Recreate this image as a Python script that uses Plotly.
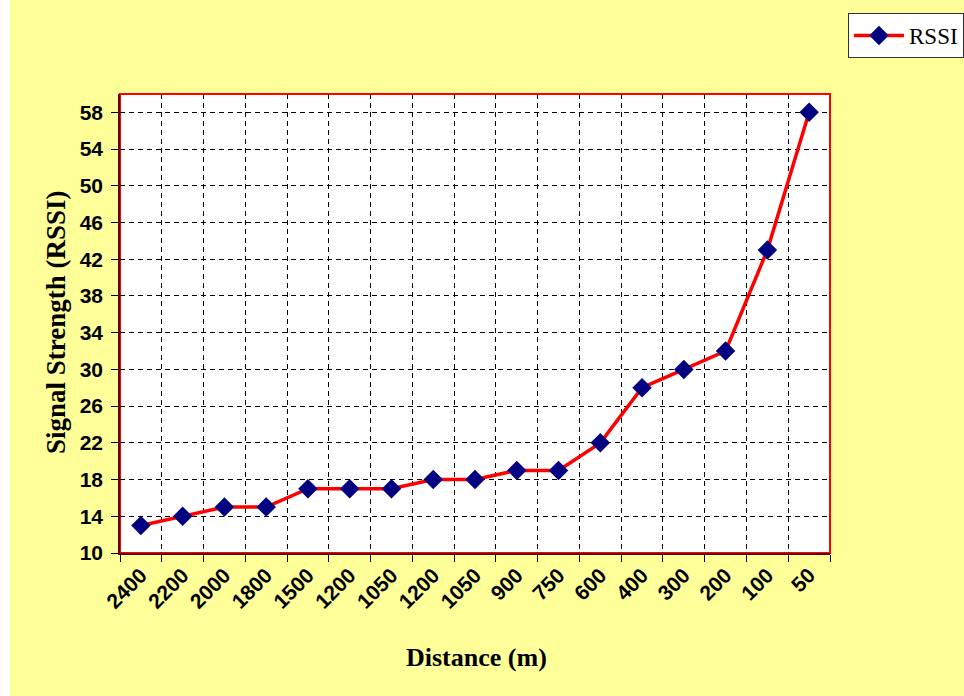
import plotly.graph_objects as go

# Distance labels along the x axis (some distances repeat in the survey)
distance_labels = ["2400", "2200", "2000", "1800", "1500", "1200", "1050", "1200",
                   "1050", "900", "750", "600", "400", "300", "200", "100", "50"]
rssi_values = [13, 14, 15, 15, 17, 17, 17, 18, 18, 19, 19, 22, 28, 30, 32, 43, 58]
y_ticks = [10, 14, 18, 22, 26, 30, 34, 38, 42, 46, 50, 54, 58]

positions = list(range(len(distance_labels)))

W, H = 964, 696
ML, MR, MT, MB = 120, 134, 94, 143
PW, PH = W - ML - MR, H - MT - MB


def px_x(px):
    return (px - ML) / PW


def px_y(py):
    return (H - MB - py) / PH


fig = go.Figure()
fig.add_trace(go.Scatter(
    x=positions, y=rssi_values, name="RSSI", mode="lines+markers",
    line=dict(color="#FF0000", width=3.5),
    marker=dict(symbol="diamond", size=15, color="#000080",
                line=dict(width=0)),
))

tick_font = dict(family="Liberation Sans, Arial, sans-serif", size=21,
                 color="black", weight="bold")
title_font = dict(family="Liberation Serif, Times New Roman, serif",
                  color="black", weight="bold")

fig.update_layout(
    width=W, height=H,
    margin=dict(l=ML, r=MR, t=MT, b=MB, autoexpand=False),
    paper_bgcolor="#FFFF99",
    plot_bgcolor="white",
    showlegend=True,
    legend=dict(
        xref="container", yref="container",
        x=848 / W, y=1 - 13 / H, xanchor="left", yanchor="top",
        bgcolor="white", bordercolor="#333333", borderwidth=1,
        itemwidth=50,
        font=dict(family="Liberation Serif, Times New Roman, serif", size=23, color="black"),
    ),
    xaxis=dict(
        range=[-0.5, len(distance_labels) - 0.5],
        tickmode="array", tickvals=positions, ticktext=distance_labels,
        tickangle=-45, tickfont=tick_font, ticks="", showgrid=False,
        zeroline=False, showline=True, linecolor="#600000", linewidth=1.5,
        minor=dict(tick0=-0.5, dtick=1, ticks="outside", ticklen=7,
                   tickcolor="black", tickwidth=1, showgrid=True,
                   gridcolor="black", gridwidth=1, griddash="5px,4px"),
    ),
    yaxis=dict(
        range=[10, 60], tickmode="array", tickvals=y_ticks,
        tickfont=tick_font, ticks="outside", ticklen=7, tickcolor="black",
        showgrid=True, gridcolor="black", gridwidth=1, griddash="5px,4px",
        zeroline=False, showline=True, linecolor="#600000", linewidth=1.5,
        ticklabelstandoff=4,
    ),
    shapes=[
        # white strip on the far left edge of the page
        dict(type="rect", xref="paper", yref="paper",
             x0=px_x(0), x1=px_x(10), y0=px_y(H), y1=px_y(0),
             fillcolor="white", line=dict(width=0), layer="below"),
        # red plot-area border
        dict(type="rect", xref="paper", yref="paper",
             x0=0, x1=1, y0=0, y1=1,
             line=dict(color="#FF0000", width=2), layer="below"),
    ],
    annotations=[
        dict(text="Signal Strength (RSSI)", xref="paper", yref="paper",
             x=px_x(56), y=px_y(322), xanchor="center", yanchor="middle",
             textangle=-90, showarrow=False, font=dict(title_font, size=27)),
        dict(text="Distance (m)", xref="paper", yref="paper",
             x=px_x(476), y=px_y(657), xanchor="center", yanchor="middle",
             showarrow=False, font=dict(title_font, size=26)),
    ],
)

fig.write_html("out.html")
